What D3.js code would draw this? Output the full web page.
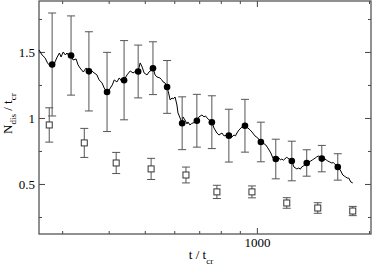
<!DOCTYPE html>
<html>
<head>
<meta charset="utf-8">
<script src="https://cdn.jsdelivr.net/npm/d3@7"></script>
<style>
  body { margin: 0; background: #fff; }
  text { font-family: "Liberation Serif", "DejaVu Serif", serif; fill: #000; }
</style>
</head>
<body>
<script>
var width = 374,
    height = 267;

// filled circles (averaged values, with error)
var dotT   = [282, 317, 354, 396, 440, 480, 526, 574, 630, 690, 757, 841, 929, 1025, 1124, 1241, 1361, 1494, 1649];
var dotV   = [1.405, 1.473, 1.353, 1.197, 1.286, 1.352, 1.377, 1.235, 0.960, 0.979, 0.968, 0.866, 0.941, 0.818, 0.689, 0.674, 0.659, 0.692, 0.629];
var dotErr = [0.39, 0.30, 0.30, 0.30, 0.30, 0.20, 0.20, 0.20, 0.20, 0.20, 0.20, 0.20, 0.20, 0.15, 0.15, 0.15, 0.10, 0.10, 0.10];

// open squares
var sqT   = [277, 344, 419, 520, 645, 781, 970, 1203, 1457, 1809];
var sqV   = [0.947, 0.811, 0.659, 0.614, 0.568, 0.440, 0.440, 0.356, 0.318, 0.295];
var sqErr = [0.13, 0.11, 0.08, 0.08, 0.06, 0.05, 0.045, 0.04, 0.04, 0.035];

// noisy running curve
var lineT = [260, 265, 270, 274, 277, 282, 284, 287, 291, 295, 298, 302, 306, 309, 313, 317, 321, 327, 331, 335,
             342, 348, 354, 358, 363, 372, 377, 384, 389, 396, 401, 409, 414, 421, 427, 435, 440, 448, 457, 465,
             474, 480, 486, 492, 498, 507, 513, 520, 526, 533, 539, 549, 555, 560, 567, 574, 581, 585, 592, 596,
             603, 610, 614, 622, 630, 633, 641, 649, 653, 661, 668, 674, 682, 690, 699, 712, 721, 728, 735, 744,
             757, 767, 781, 791, 806, 816, 831, 841, 849, 857, 868, 876, 884, 895, 912, 929, 946, 958, 970, 988,
             1006, 1025, 1038, 1057, 1070, 1090, 1104, 1124, 1135, 1146, 1157, 1167, 1178, 1189, 1200, 1211, 1225, 1241, 1257, 1280,
             1296, 1308, 1320, 1332, 1345, 1361, 1378, 1396, 1409, 1422, 1435, 1448, 1462, 1475, 1494, 1508, 1522, 1536, 1550, 1570,
             1589, 1604, 1619, 1634, 1649, 1665, 1680, 1701, 1716, 1732, 1748, 1765, 1787, 1809];
var lineV = [1.515, 1.477, 1.455, 1.417, 1.402, 1.409, 1.386, 1.424, 1.462, 1.492, 1.462, 1.500, 1.477, 1.492, 1.470, 1.477, 1.439, 1.447, 1.402, 1.379,
             1.348, 1.379, 1.356, 1.365, 1.348, 1.326, 1.288, 1.265, 1.227, 1.197, 1.212, 1.250, 1.288, 1.273, 1.303, 1.273, 1.288, 1.326, 1.356, 1.341,
             1.356, 1.356, 1.417, 1.386, 1.341, 1.326, 1.348, 1.360, 1.379, 1.326, 1.311, 1.303, 1.290, 1.273, 1.265, 1.235, 1.174, 1.136, 1.152, 1.144,
             1.159, 1.098, 1.038, 1.000, 0.962, 1.008, 0.985, 0.955, 0.970, 0.947, 0.958, 0.962, 0.970, 0.977, 1.008, 1.023, 1.008, 1.015, 1.000, 0.985,
             0.970, 0.924, 0.886, 0.871, 0.886, 0.864, 0.871, 0.864, 0.850, 0.856, 0.871, 0.864, 0.886, 0.909, 0.932, 0.939, 0.924, 0.910, 0.894, 0.864,
             0.848, 0.818, 0.811, 0.795, 0.773, 0.735, 0.697, 0.689, 0.700, 0.697, 0.682, 0.689, 0.680, 0.689, 0.702, 0.697, 0.684, 0.674, 0.629, 0.614,
             0.621, 0.612, 0.629, 0.636, 0.644, 0.659, 0.666, 0.674, 0.682, 0.689, 0.697, 0.705, 0.712, 0.705, 0.697, 0.700, 0.689, 0.682, 0.674, 0.666,
             0.659, 0.662, 0.652, 0.640, 0.629, 0.615, 0.598, 0.568, 0.560, 0.553, 0.545, 0.545, 0.515, 0.508];

var xTicksMajor = [1000];
var xTicksMinor = [300, 400, 500, 600, 700, 800, 900, 2000];
var yTicksMajor = [0.5, 1, 1.5];
var yTicksMinor = [0.25, 0.75, 1.25, 1.75];

var mLeft = 39, mRight = 371, mTop = 1, mBottom = 234;

var x = d3.scaleLog().domain([260, 2025]).range([mLeft, mRight]);
var y = d3.scaleLinear().domain([0.121, 1.886]).range([mBottom, mTop]);

var svg = d3.select("body").append("svg")
    .attr("width", width)
    .attr("height", height);

// AXES
function axis(gen, vals, size, fmt, tx, ty) {
  var g = svg.append("g")
    .attr("transform", "translate(" + tx + "," + ty + ")")
    .call(gen.tickValues(vals).tickSize(size).tickPadding(4).tickFormat(fmt));
  g.select(".domain").remove();
  g.selectAll("line").attr("stroke", "#444");
  g.selectAll("text").attr("font-size", 13).attr("font-family", "Liberation Serif, serif").attr("fill", "#000");
  return g;
}
var none = function() { return ""; };

axis(d3.axisBottom(x), xTicksMajor, -6, d3.format("d"), 0, mBottom);
axis(d3.axisBottom(x), xTicksMinor, -3, none, 0, mBottom);
axis(d3.axisTop(x), xTicksMajor, -6, none, 0, mTop);
axis(d3.axisTop(x), xTicksMinor, -3, none, 0, mTop);
axis(d3.axisLeft(y), yTicksMajor, -6, function(d) { return d; }, mLeft, 0);
axis(d3.axisLeft(y), yTicksMinor, -3, none, mLeft, 0);
axis(d3.axisRight(y), yTicksMajor, -6, none, mRight, 0);
axis(d3.axisRight(y), yTicksMinor, -3, none, mRight, 0);

svg.append("rect")
    .attr("x", mLeft).attr("y", mTop)
    .attr("width", mRight - mLeft).attr("height", mBottom - mTop)
    .attr("fill", "none").attr("stroke", "#555").attr("stroke-width", 1.3);

// LINE
var lineData = d3.zip(lineT, lineV);
svg.append("path")
    .datum(lineData)
    .attr("fill", "none")
    .attr("stroke", "#000")
    .attr("stroke-width", 1)
    .attr("d", d3.line().x(function(d) { return x(d[0]); }).y(function(d) { return y(d[1]); }));

// ERROR BARS
function errorBars(ts, vs, es) {
  var g = svg.append("g").attr("stroke", "#555").attr("stroke-width", 1).attr("fill", "none");
  var data = d3.zip(ts, vs, es);
  g.selectAll(null).data(data).enter().append("line")
    .attr("x1", function(d) { return x(d[0]); }).attr("x2", function(d) { return x(d[0]); })
    .attr("y1", function(d) { return y(d[1] - d[2]); }).attr("y2", function(d) { return y(d[1] + d[2]); });
  [1, -1].forEach(function(s) {
    g.selectAll(null).data(data).enter().append("line")
      .attr("x1", function(d) { return x(d[0]) - 4; }).attr("x2", function(d) { return x(d[0]) + 4; })
      .attr("y1", function(d) { return y(d[1] + s * d[2]); }).attr("y2", function(d) { return y(d[1] + s * d[2]); });
  });
}
errorBars(dotT, dotV, dotErr);
errorBars(sqT, sqV, sqErr);

// MARKERS
svg.append("g").selectAll("circle")
    .data(d3.zip(dotT, dotV))
    .enter().append("circle")
    .attr("cx", function(d) { return x(d[0]); })
    .attr("cy", function(d) { return y(d[1]); })
    .attr("r", 3.3)
    .attr("fill", "#000");

svg.append("g").selectAll("rect")
    .data(d3.zip(sqT, sqV))
    .enter().append("rect")
    .attr("x", function(d) { return x(d[0]) - 3; })
    .attr("y", function(d) { return y(d[1]) - 3; })
    .attr("width", 6).attr("height", 6)
    .attr("fill", "#fff")
    .attr("stroke", "#333")
    .attr("stroke-width", 1);

// LABELS
var xl = svg.append("text")
    .attr("x", (mLeft + mRight) / 2 - 4)
    .attr("y", 259)
    .attr("text-anchor", "middle")
    .attr("font-size", 13);
xl.append("tspan").text("t / t");
xl.append("tspan").attr("font-size", 9).attr("dy", 5).text("cr");

var yl = svg.append("text")
    .attr("transform", "translate(12,134) rotate(-90)")
    .attr("font-size", 13);
yl.append("tspan").text("N");
yl.append("tspan").attr("font-size", 9).attr("dy", 4).text("dis");
yl.append("tspan").attr("dy", -4).text(" / t");
yl.append("tspan").attr("font-size", 9).attr("dy", 4).text("cr");
</script>
</body>
</html>
